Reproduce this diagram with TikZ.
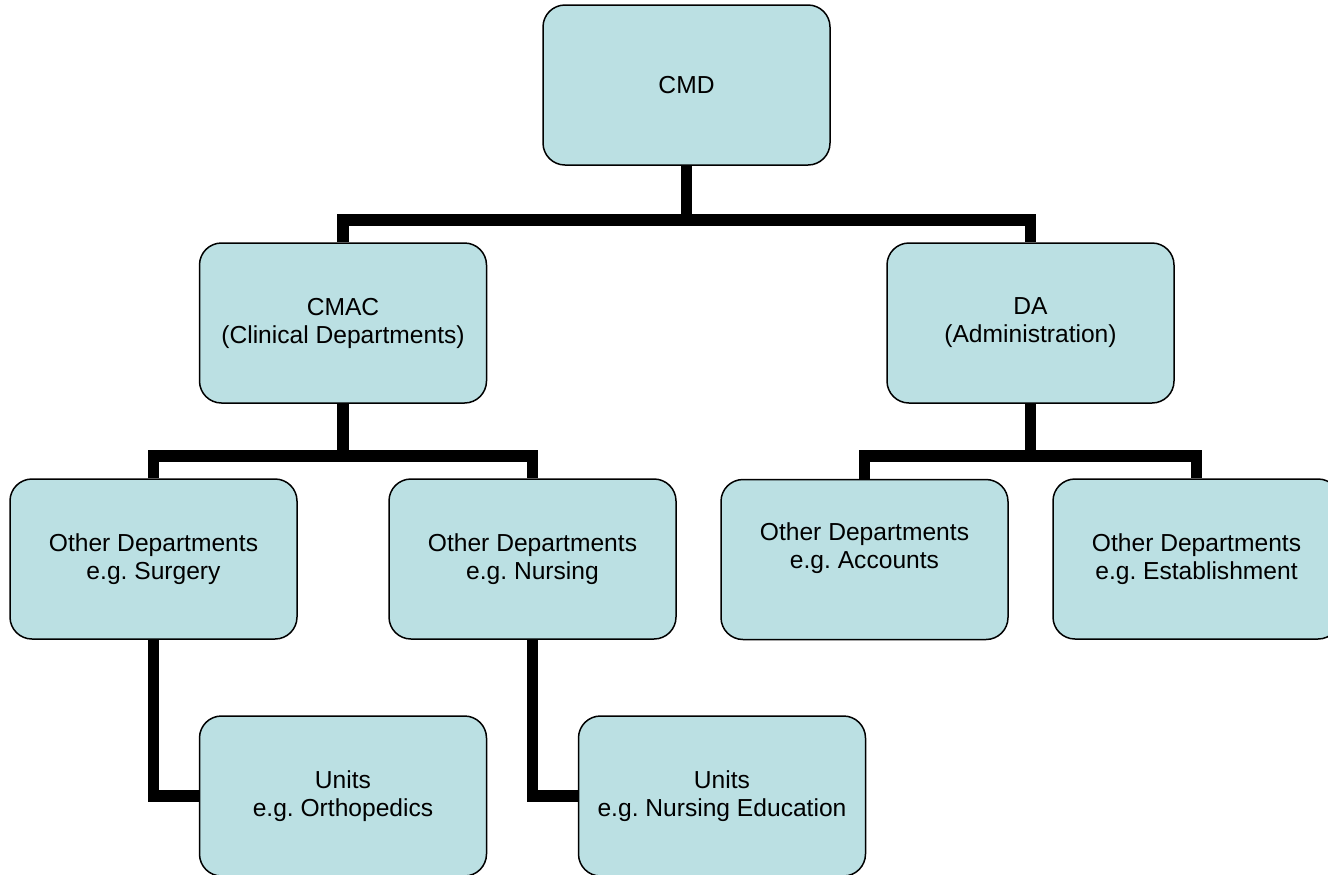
\documentclass[tikz,border=0pt]{standalone}
\usepackage{fontspec}
\setmainfont{Liberation Sans}
\definecolor{boxfill}{RGB}{187,224,227}
\tikzset{
    unit/.style={draw,fill=boxfill,line width=0.75pt,rounded corners=11pt,
        minimum width=143.5pt,minimum height=80pt,inner sep=0pt,align=center,
        font=\fontsize{12.3}{14}\selectfont\frenchspacing},
    link/.style={line width=5.8pt,line join=miter}
}

\begin{document}
\begin{tikzpicture}[x=0.5pt,y=-0.5pt]
    \useasboundingbox (0,0) rectangle (1328,874);
    \node[unit] (cmd) at (686.5,85) {CMD};
    \node[unit] (cmac) at (343,323) {CMAC\\(Clinical Departments)};
    \node[unit] (da) at (1030.5,323) {DA\\(Administration)};
    \node[unit] (surgery) at (153.5,559) {Other Departments\\e.g. Surgery};
    \node[unit] (nursing) at (532.5,559) {Other Departments\\e.g. Nursing};
    \node[unit] (accounts) at (864.5,559.5) {Other Departments\\e.g. Accounts\\ \mbox{}};
    \node[unit] (establishment) at (1196.5,559) {Other Departments\\e.g. Establishment};
    \node[unit] (ortho) at (343,796) {Units\\e.g. Orthopedics};
    \node[unit] (nursinged) at (722,796) {Units\\e.g. Nursing Education};
    \coordinate (cmdjoin) at (686.5,220);
    \coordinate (cmacjoin) at (343,456);
    \coordinate (dajoin) at (1030.5,456);
    \draw[link] (cmd.south) -- (cmdjoin);
    \draw[link] (cmac.north) |- (cmdjoin) -| (da.north);
    \draw[link] (cmac.south) -- (cmacjoin);
    \draw[link] (surgery.north) |- (cmacjoin) -| (nursing.north);
    \draw[link] (da.south) -- (dajoin);
    \draw[link] (accounts.north) |- (dajoin) -| (establishment.north);
    \draw[link] (surgery.south) |- (ortho.west);
    \draw[link] (nursing.south) |- (nursinged.west);
\end{tikzpicture}
\end{document}
